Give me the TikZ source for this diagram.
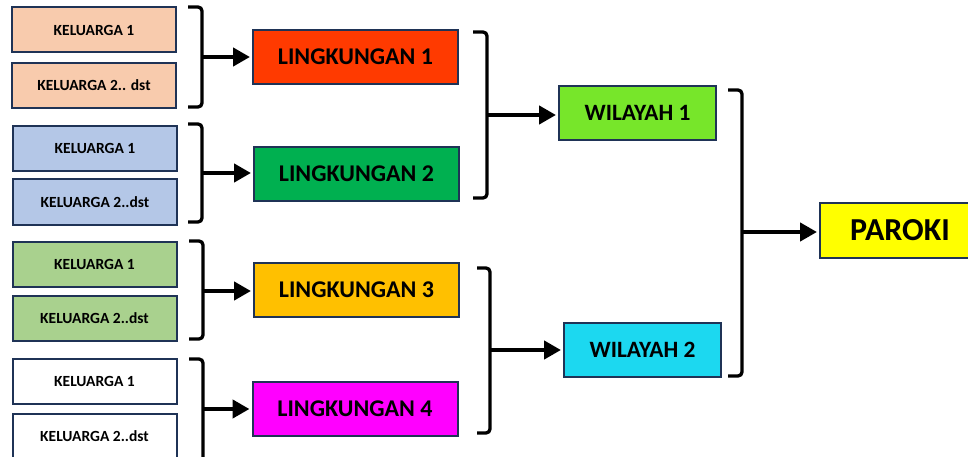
\documentclass[tikz,border=0pt]{standalone}
\usepackage{fontspec}
\setmainfont{Carlito}
\usetikzlibrary{arrows.meta}
\definecolor{bordc}{HTML}{1F3356}
\definecolor{peach}{HTML}{F8CBAD}
\definecolor{lblue}{HTML}{B4C7E7}
\definecolor{lgreen}{HTML}{A9D18E}
\definecolor{lingA}{HTML}{FF3A00}
\definecolor{lingB}{HTML}{00B050}
\definecolor{lingC}{HTML}{FFC000}
\definecolor{lingD}{HTML}{FF00FF}
\definecolor{wilA}{HTML}{77E62A}
\definecolor{wilB}{HTML}{1CD8F0}
\definecolor{parc}{HTML}{FFFF00}
\tikzset{
  box/.style={draw=bordc, line width=2pt, inner sep=0pt, text=black},
  kbox/.style={box, minimum width=164pt, minimum height=45pt, font=\fontsize{15.5}{18}\selectfont\bfseries},
  lbox/.style={box, minimum width=205pt, minimum height=54pt, font=\fontsize{24}{28}\selectfont\bfseries},
  wbox/.style={box, minimum width=157pt, minimum height=54pt, font=\fontsize{23.4}{28}\selectfont\bfseries},
  pbox/.style={box, minimum width=160pt, minimum height=55pt, font=\fontsize{32}{36}\selectfont\bfseries},
  brk/.style={draw=black, line width=3.3pt, rounded corners=4pt},
  arr/.style={draw=black, line width=4.8pt, -{Triangle[length=17pt,width=18pt]}, shorten >=2pt}
}
\begin{document}
\begin{tikzpicture}[x=1pt,y=1pt]
\fill[white] (0,0) rectangle (968,-457);
\clip (0,0) rectangle (968,-457);
% keluarga boxes
\node[kbox, fill=peach] (k1a) at (94,-30) {KELUARGA 1};
\node[kbox, fill=peach] (k1b) at (94,-85.5) {KELUARGA 2.. dst};
\node[kbox, fill=lblue] (k2a) at (95,-148.5) {KELUARGA 1};
\node[kbox, fill=lblue] (k2b) at (95,-202) {KELUARGA 2..dst};
\node[kbox, fill=lgreen] (k3a) at (94.5,-264) {KELUARGA 1};
\node[kbox, fill=lgreen] (k3b) at (94.5,-318) {KELUARGA 2..dst};
\node[kbox, fill=white] (k4a) at (94.5,-381.5) {KELUARGA 1};
\node[kbox, fill=white] (k4b) at (94.5,-436) {KELUARGA 2..dst};
% lingkungan
\node[lbox, fill=lingA] (l1) at (355.5,-57) {LINGKUNGAN 1};
\node[lbox, fill=lingB] (l2) at (356.5,-174) {LINGKUNGAN 2};
\node[lbox, fill=lingC] (l3) at (356.5,-290) {LINGKUNGAN 3};
\node[lbox, fill=lingD] (l4) at (355,-409) {LINGKUNGAN 4};
% wilayah
\node[wbox, fill=wilA] (w1) at (637.5,-113) {WILAYAH 1};
\node[wbox, fill=wilB] (w2) at (642.5,-350) {WILAYAH 2};
% paroki
\node[pbox, fill=parc] (p) at (900,-230.5) {PAROKI};
% brackets
\draw[brk] (188,-7) -- (202,-7) -- (202,-107) -- (188,-107);
\draw[brk] (188,-124) -- (202,-124) -- (202,-222) -- (188,-222);
\draw[brk] (189,-241) -- (203,-241) -- (203,-339) -- (189,-339);
\draw[brk] (189,-359) -- (203,-359) -- (203,-470) -- (189,-470);
\draw[brk] (473,-32) -- (487,-32) -- (487,-198) -- (473,-198);
\draw[brk] (477,-268) -- (490,-268) -- (490,-433) -- (477,-433);
\draw[brk] (728,-90) -- (742,-90) -- (742,-376) -- (728,-376);
% bracket midpoints
\coordinate (m1) at (201,-57);
\coordinate (m2) at (201,-173);
\coordinate (m3) at (202,-291);
\coordinate (m4) at (202,-409);
\coordinate (m5) at (486,-115);
\coordinate (m6) at (489,-350);
\coordinate (m7) at (741,-232);
% arrows
\draw[arr] (m1) -- (m1 -| l1.west);
\draw[arr] (m2) -- (m2 -| l2.west);
\draw[arr] (m3) -- (m3 -| l3.west);
\draw[arr] (m4) -- (m4 -| l4.west);
\draw[arr] (m5) -- (m5 -| w1.west);
\draw[arr] (m6) -- (m6 -| w2.west);
\draw[arr] (m7) -- (m7 -| p.west);
\end{tikzpicture}
\end{document}
